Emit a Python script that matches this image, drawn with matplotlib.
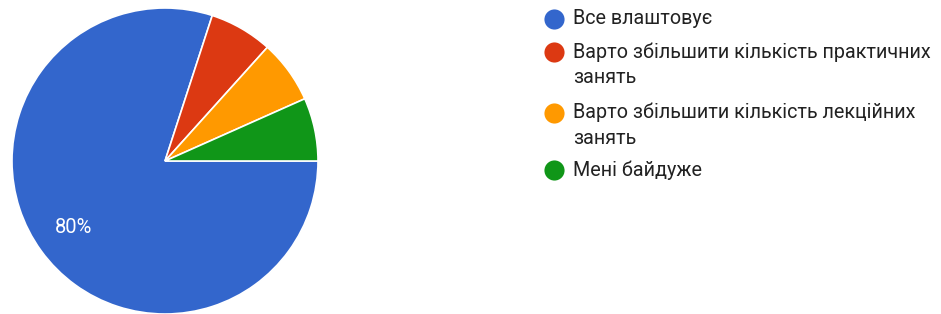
import matplotlib
matplotlib.use("Agg")
import matplotlib.pyplot as plt

W, H = 941, 314

# Data
labels = ["Все влаштовує",
          "Варто збільшити кількість практичних\nзанять",
          "Варто збільшити кількість лекційних\nзанять",
          "Мені байдуже"]
counts = [12, 1, 1, 1]
colors = ["#3366cc", "#dc3912", "#ff9900", "#109618"]

plt.rcParams['font.family'] = ['Roboto', 'DejaVu Sans']

fig = plt.figure(figsize=(W / 100, H / 100), dpi=100)

# pie centred at (165, 161) px, radius 153 px
cx, cy, r = 165, 161, 153
ax = fig.add_axes([(cx - r) / W, (H - cy - r) / H, 2 * r / W, 2 * r / H])

def pct_fmt(p):
    return f"{p:.0f}%" if p > 10 else ""

wedges, texts, autotexts = ax.pie(
    counts, colors=colors, startangle=0, counterclock=False,
    autopct=pct_fmt, pctdistance=0.74,
    wedgeprops=dict(edgecolor="white", linewidth=1.2),
    textprops=dict(color="white", fontsize=14.5))
ax.set_xlim(-1, 1)
ax.set_ylim(-1, 1)
ax.set_aspect("equal")
ax.axis("off")

# legend drawn by hand to match the wrapped layout
marker_y = [19, 52, 113, 170]
for lab, col, my in zip(labels, colors, marker_y):
    fig.add_artist(plt.Line2D([554 / W], [1 - my / H], marker="o", markersize=14.5,
                              color=col, markeredgewidth=0, transform=fig.transFigure))
    fig.text(573 / W, 1 - (my - 10) / H, lab, fontsize=14.2, color="#222222",
             va="top", ha="left", linespacing=1.42)

fig.savefig("out.png", dpi=100)
